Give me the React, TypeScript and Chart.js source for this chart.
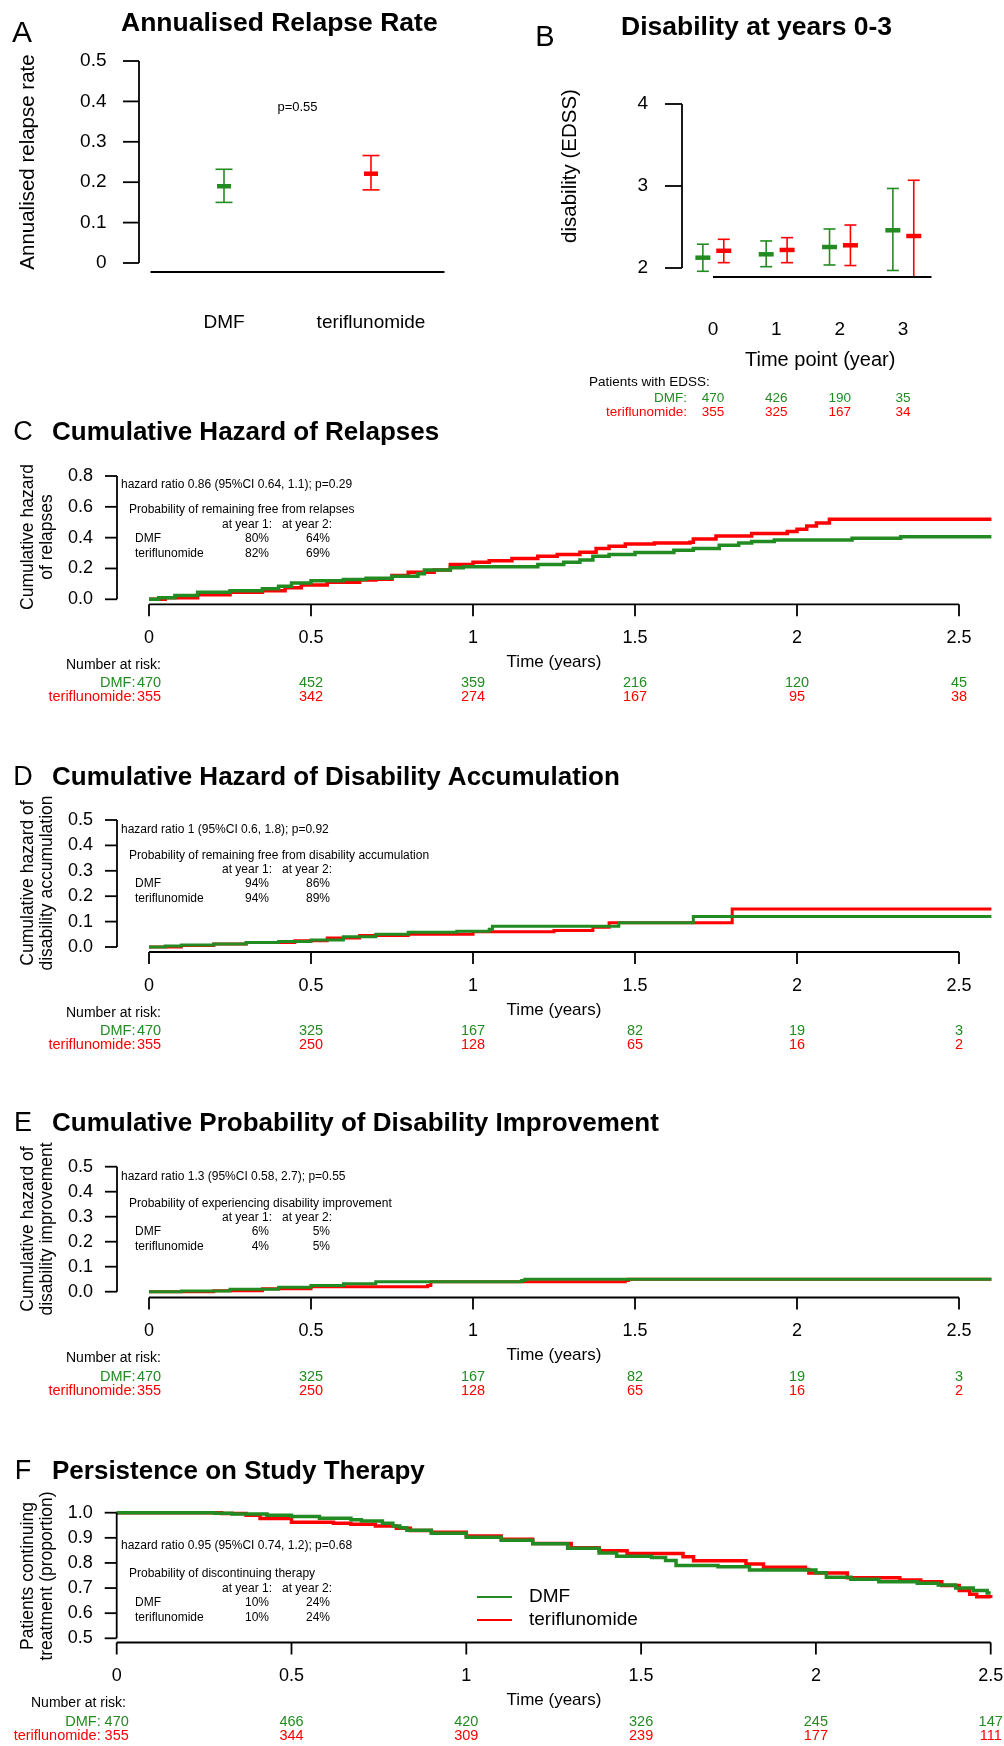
import React, { useEffect, useRef } from 'react';
import { Chart, registerables } from 'chart.js';
Chart.register(...registerables);

const W = 1004;
const H = 1746;
const GREEN = '#228B22';
const RED = '#FF0000';
const FONT = '"Liberation Sans", Arial, sans-serif';

// ---------------- Panel A: annualised relapse rate
const groupsA = ['DMF', 'teriflunomide'];
const arrMean = [0.19, 0.221];
const arrLow = [0.15, 0.181];
const arrHigh = [0.232, 0.266];
const arrTicks = [0, 0.1, 0.2, 0.3, 0.4, 0.5];
const arrTickLabels = ['0', '0.1', '0.2', '0.3', '0.4', '0.5'];

// ---------------- Panel B: disability at years 0-3
const edssYears = [0, 1, 2, 3];
const edssTicks = [2, 3, 4];
const edssDmfMean = [2.126, 2.167, 2.256, 2.46];
const edssDmfLow = [1.96, 2.016, 2.037, 1.97];
const edssDmfHigh = [2.29, 2.33, 2.476, 2.97];
const edssTeriMean = [2.21, 2.22, 2.277, 2.39];
const edssTeriLow = [2.065, 2.065, 2.03, 1.89];
const edssTeriHigh = [2.35, 2.37, 2.524, 3.07];
const edssDmfN = [470, 426, 190, 35];
const edssTeriN = [355, 325, 167, 34];

// ---------------- shared time axis
const riskTimes = [0, 0.5, 1, 1.5, 2, 2.5];
const riskTimeLabels = ['0', '0.5', '1', '1.5', '2', '2.5'];

// ---------------- Panel C: cumulative hazard of relapses (value from time t on)
const relDmfT = [0, 0.03, 0.08, 0.15, 0.25, 0.35, 0.4, 0.44, 0.5, 0.6, 0.67, 0.75, 0.83, 0.85, 0.93, 0.97, 1.2, 1.28, 1.33, 1.37, 1.42, 1.5, 1.62, 1.68, 1.76, 1.82, 1.86, 1.93, 2.17, 2.32, 2.6];
const relDmfH = [0, 0.01, 0.025, 0.045, 0.055, 0.068, 0.085, 0.105, 0.12, 0.128, 0.136, 0.15, 0.165, 0.19, 0.205, 0.212, 0.225, 0.24, 0.255, 0.28, 0.29, 0.303, 0.318, 0.33, 0.35, 0.365, 0.375, 0.385, 0.396, 0.406, 0.406];
const relTeriT = [0, 0.05, 0.15, 0.25, 0.35, 0.42, 0.47, 0.55, 0.65, 0.7, 0.75, 0.8, 0.88, 0.93, 1.0, 1.05, 1.12, 1.2, 1.26, 1.33, 1.38, 1.42, 1.47, 1.56, 1.67, 1.68, 1.75, 1.86, 1.97, 2.0, 2.03, 2.06, 2.1, 2.6];
const relTeriH = [0, 0.01, 0.03, 0.045, 0.055, 0.075, 0.093, 0.11, 0.125, 0.13, 0.155, 0.175, 0.19, 0.225, 0.24, 0.25, 0.265, 0.28, 0.29, 0.305, 0.33, 0.345, 0.358, 0.365, 0.37, 0.392, 0.41, 0.427, 0.44, 0.455, 0.475, 0.495, 0.52, 0.52];
const relRiskDmf = [470, 452, 359, 216, 120, 45];
const relRiskTeri = [355, 342, 274, 167, 95, 38];

// ---------------- Panel D: disability accumulation
const accDmfT = [0, 0.05, 0.1, 0.2, 0.3, 0.4, 0.5, 0.6, 0.7, 0.8, 0.95, 1.05, 1.06, 1.45, 1.68, 2.6];
const accDmfH = [0, 0.004, 0.008, 0.012, 0.018, 0.022, 0.028, 0.04, 0.05, 0.058, 0.062, 0.07, 0.082, 0.095, 0.12, 0.12];
const accTeriT = [0, 0.1, 0.2, 0.3, 0.45, 0.55, 0.65, 0.8, 1.0, 1.25, 1.37, 1.42, 1.8, 2.6];
const accTeriH = [0, 0.006, 0.012, 0.018, 0.025, 0.035, 0.045, 0.05, 0.06, 0.065, 0.078, 0.095, 0.15, 0.15];
const accRiskDmf = [470, 325, 167, 82, 19, 3];
const accRiskTeri = [355, 250, 128, 65, 16, 2];

// ---------------- Panel E: disability improvement
const impDmfT = [0, 0.1, 0.25, 0.4, 0.5, 0.6, 0.7, 1.15, 1.16, 2.6];
const impDmfH = [0, 0.003, 0.01, 0.018, 0.025, 0.032, 0.04, 0.045, 0.05, 0.05];
const impTeriT = [0, 0.2, 0.35, 0.5, 0.86, 0.87, 1.47, 1.48, 2.6];
const impTeriH = [0, 0.004, 0.012, 0.02, 0.025, 0.04, 0.045, 0.05, 0.05];
const impRiskDmf = [470, 325, 167, 82, 19, 3];
const impRiskTeri = [355, 250, 128, 65, 16, 2];

// ---------------- Panel F: persistence on therapy
const perDmfT = [0, 0.28, 0.33, 0.43, 0.5, 0.58, 0.67, 0.7, 0.76, 0.79, 0.81, 0.83, 0.9, 1.0, 1.1, 1.19, 1.29, 1.38, 1.43, 1.53, 1.57, 1.6, 1.72, 1.81, 2.0, 2.03, 2.1, 2.18, 2.29, 2.35, 2.4, 2.45, 2.49, 2.5];
const perDmfS = [1, 0.998, 0.995, 0.99, 0.985, 0.978, 0.972, 0.967, 0.958, 0.947, 0.94, 0.93, 0.918, 0.902, 0.89, 0.876, 0.858, 0.84, 0.827, 0.822, 0.81, 0.79, 0.785, 0.772, 0.761, 0.743, 0.735, 0.725, 0.719, 0.712, 0.7, 0.69, 0.68, 0.68];
const perTeriT = [0, 0.3, 0.37, 0.41, 0.5, 0.62, 0.67, 0.74, 0.8, 0.84, 0.9, 1.0, 1.1, 1.19, 1.3, 1.38, 1.46, 1.62, 1.65, 1.8, 1.85, 1.97, 1.98, 2.09, 2.24, 2.3, 2.36, 2.41, 2.44, 2.46, 2.5];
const perTeriS = [1, 0.997, 0.99, 0.977, 0.962, 0.958, 0.954, 0.947, 0.938, 0.929, 0.922, 0.907, 0.894, 0.877, 0.86, 0.849, 0.838, 0.825, 0.809, 0.796, 0.783, 0.774, 0.76, 0.741, 0.732, 0.725, 0.71, 0.69, 0.675, 0.665, 0.66];
const perRiskDmf = [470, 466, 420, 326, 245, 147];
const perRiskTeri = [355, 344, 309, 239, 177, 111];

// ---------------- helpers
type Map1 = { a: number; pa: number; b: number; pb: number };
const px = (m: Map1, v: number) => m.pa + ((v - m.a) * (m.pb - m.pa)) / (m.b - m.a);

function txt(ctx: any, s: string, x: number, y: number, o: any = {}) {
  ctx.save();
  ctx.font = `${o.bold ? 'bold ' : ''}${o.size ?? 12}px ${FONT}`;
  ctx.fillStyle = o.color ?? '#000';
  ctx.textAlign = o.align ?? 'left';
  ctx.textBaseline = 'middle';
  ctx.translate(x, y);
  if (o.rot) ctx.rotate(o.rot);
  ctx.fillText(s, 0, 0);
  ctx.restore();
}
function seg(ctx: any, x1: number, y1: number, x2: number, y2: number, w = 1.8, color = '#000') {
  ctx.save();
  ctx.strokeStyle = color;
  ctx.lineWidth = w;
  ctx.lineCap = 'butt';
  ctx.beginPath();
  ctx.moveTo(x1, y1);
  ctx.lineTo(x2, y2);
  ctx.stroke();
  ctx.restore();
}
const UP = -Math.PI / 2;

function curve(ts: number[], vs: number[], color: string, w: number) {
  return {
    data: ts.map((t, i) => ({ x: t, y: vs[i] })),
    showLine: true,
    stepped: 'before',
    borderColor: color,
    backgroundColor: color,
    borderWidth: w,
    pointRadius: 0,
    fill: false,
    clip: false,
  };
}

function errorBars(xs: number[], mean: number[], low: number[], high: number[], color: string, capR: number, meanR: number, lw: number, meanW: number) {
  const whiskers = xs.map((x, i) => ({
    data: [{ x, y: low[i] }, { x, y: high[i] }],
    showLine: true,
    borderColor: color,
    borderWidth: lw,
    pointRadius: 0,
    clip: false,
  }));
  const caps = {
    data: xs.flatMap((x, i) => [{ x, y: low[i] }, { x, y: high[i] }]),
    showLine: false,
    pointStyle: 'line',
    pointRadius: capR,
    pointBorderColor: color,
    pointBorderWidth: lw,
    clip: false,
  };
  const means = {
    data: xs.map((x, i) => ({ x, y: mean[i] })),
    showLine: false,
    pointStyle: 'line',
    pointRadius: meanR,
    pointBorderColor: color,
    pointBorderWidth: meanW,
    clip: false,
  };
  return [...whiskers, caps, means];
}

// ---------------- survival-type panel drawing
interface SurvSpec {
  letter: string;
  title: string;
  titleY: number;
  yLabel: [string, string];
  yLabelY: number;
  yTicks: number[];
  yTickLabels: string[];
  yAxisX: number;
  xAxisY: number;
  riskLabelLeft: number;
  riskNameGap: number;
  riskDmf: number[];
  riskTeri: number[];
  statY: number;
  statHeadY: number;
  stats: string[];
  legend?: boolean;
}

function drawSurv(ctx: any, chart: any, s: SurvSpec) {
  const X = (v: number) => chart.scales.x.getPixelForValue(v);
  const Y = (v: number) => chart.scales.y.getPixelForValue(v);
  txt(ctx, s.letter, 23, s.titleY, { size: 27, align: 'center' });
  txt(ctx, s.title, 52, s.titleY, { size: 26, bold: true });
  const ax = s.yAxisX;
  seg(ctx, ax, Y(s.yTicks[0]), ax, Y(s.yTicks[s.yTicks.length - 1]));
  s.yTicks.forEach((v, i) => {
    seg(ctx, ax - 12, Y(v), ax, Y(v));
    txt(ctx, s.yTickLabels[i], ax - 24, Y(v), { size: 18, align: 'right' });
  });
  txt(ctx, s.yLabel[0], 28, s.yLabelY, { size: 17.5, align: 'center', rot: UP });
  txt(ctx, s.yLabel[1], 47, s.yLabelY, { size: 17.5, align: 'center', rot: UP });
  const ay = s.xAxisY;
  seg(ctx, X(riskTimes[0]), ay, X(riskTimes[riskTimes.length - 1]), ay);
  riskTimes.forEach((t, i) => {
    seg(ctx, X(t), ay, X(t), ay + 12);
    txt(ctx, riskTimeLabels[i], X(t), ay + 34, { size: 18, align: 'center' });
  });
  txt(ctx, 'Time (years)', 554, ay + 58, { size: 17, align: 'center' });
  txt(ctx, 'Number at risk:', s.riskLabelLeft, ay + 61, { size: 14 });
  txt(ctx, 'DMF:', X(0) - s.riskNameGap, ay + 79, { size: 14.5, color: GREEN, align: 'right' });
  txt(ctx, 'teriflunomide:', X(0) - s.riskNameGap, ay + 93, { size: 14.5, color: RED, align: 'right' });
  riskTimes.forEach((t, i) => {
    txt(ctx, String(s.riskDmf[i]), X(t), ay + 79, { size: 14.5, color: GREEN, align: 'center' });
    txt(ctx, String(s.riskTeri[i]), X(t), ay + 93, { size: 14.5, color: RED, align: 'center' });
  });
  txt(ctx, s.stats[0], 121, s.statY, { size: 12 });
  const h = s.statHeadY;
  txt(ctx, s.stats[1], 129, h, { size: 12 });
  txt(ctx, 'at year 1:', 272, h + 14.4, { size: 12, align: 'right' });
  txt(ctx, 'at year 2:', 332, h + 14.4, { size: 12, align: 'right' });
  txt(ctx, 'DMF', 135, h + 28.8, { size: 12 });
  txt(ctx, s.stats[2], 269, h + 28.8, { size: 12, align: 'right' });
  txt(ctx, s.stats[3], 330, h + 28.8, { size: 12, align: 'right' });
  txt(ctx, 'teriflunomide', 135, h + 43.2, { size: 12 });
  txt(ctx, s.stats[4], 269, h + 43.2, { size: 12, align: 'right' });
  txt(ctx, s.stats[5], 330, h + 43.2, { size: 12, align: 'right' });
  if (s.legend) {
    seg(ctx, 477, 1597, 512, 1597, 2, GREEN);
    seg(ctx, 477, 1620, 512, 1620, 2, RED);
    txt(ctx, 'DMF', 529, 1597, { size: 19 });
    txt(ctx, 'teriflunomide', 529, 1620, { size: 19 });
  }
}

// ---------------- panel definitions
const xSurv: Map1 = { a: 0, pa: 149, b: 2.5, pb: 959 };

const PANELS: any[] = [
  {
    xm: { a: 1, pa: 224, b: 2, pb: 371 },
    xr: [0.4, 2.6],
    ym: { a: 0, pa: 263, b: 0.5, pb: 61 },
    yr: [-0.05, 0.56],
    datasets: [
      ...errorBars([1], [arrMean[0]], [arrLow[0]], [arrHigh[0]], GREEN, 8.5, 7, 1.6, 4.5),
      ...errorBars([2], [arrMean[1]], [arrLow[1]], [arrHigh[1]], RED, 8.5, 7, 1.6, 4.5),
    ],
    draw: (ctx: any, chart: any) => {
      const X = (v: number) => chart.scales.x.getPixelForValue(v);
      const Y = (v: number) => chart.scales.y.getPixelForValue(v);
      txt(ctx, 'A', 22, 34, { size: 30, align: 'center' });
      txt(ctx, 'Annualised Relapse Rate', 121, 24, { size: 26.5, bold: true });
      const ax = 139;
      seg(ctx, ax, Y(0), ax, Y(0.5));
      arrTicks.forEach((v, i) => {
        seg(ctx, ax - 16, Y(v), ax, Y(v));
        txt(ctx, arrTickLabels[i], 106.5, Y(v), { size: 19, align: 'right' });
      });
      txt(ctx, 'Annualised relapse rate', 28, 162, { size: 20.5, align: 'center', rot: UP });
      seg(ctx, X(0.5), 272, X(2.5), 272);
      groupsA.forEach((g, i) => txt(ctx, g, X(i + 1), 323, { size: 19, align: 'center' }));
      txt(ctx, 'p=0.55', X(1.5), 107, { size: 13, align: 'center' });
    },
  },
  {
    xm: { a: 0, pa: 713, b: 3, pb: 903 },
    xr: [-0.6, 3.8],
    ym: { a: 2, pa: 268, b: 4, pb: 104 },
    yr: [1.8, 4.1],
    datasets: [
      ...errorBars(edssYears.map((v) => v - 0.16), edssDmfMean, edssDmfLow, edssDmfHigh, GREEN, 6, 7.5, 1.6, 4.5),
      ...errorBars(edssYears.map((v) => v + 0.17), edssTeriMean, edssTeriLow, edssTeriHigh, RED, 6, 7.5, 1.6, 4.5),
    ],
    draw: (ctx: any, chart: any) => {
      const X = (v: number) => chart.scales.x.getPixelForValue(v);
      const Y = (v: number) => chart.scales.y.getPixelForValue(v);
      txt(ctx, 'B', 545, 38, { size: 29, align: 'center' });
      txt(ctx, 'Disability at years 0-3', 621, 28, { size: 26.5, bold: true });
      const ax = 682;
      seg(ctx, ax, Y(2), ax, Y(4));
      edssTicks.forEach((v) => {
        seg(ctx, ax - 17, Y(v), ax, Y(v));
        txt(ctx, String(v), 648, Y(v), { size: 19, align: 'right' });
      });
      txt(ctx, 'disability (EDSS)', 570, 166, { size: 20.5, align: 'center', rot: UP });
      seg(ctx, X(0), 277, X(3.45), 277);
      edssYears.forEach((v) => txt(ctx, String(v), X(v), 330, { size: 19, align: 'center' }));
      txt(ctx, 'Time point (year)', 745, 360, { size: 20 });
      txt(ctx, 'Patients with EDSS:', 589, 382, { size: 13.5 });
      txt(ctx, 'DMF:', 687, 398, { size: 13.5, color: GREEN, align: 'right' });
      txt(ctx, 'teriflunomide:', 687, 412, { size: 13.5, color: RED, align: 'right' });
      edssYears.forEach((v, i) => {
        txt(ctx, String(edssDmfN[i]), X(v), 398, { size: 13.5, color: GREEN, align: 'center' });
        txt(ctx, String(edssTeriN[i]), X(v), 412, { size: 13.5, color: RED, align: 'center' });
      });
    },
  },
  {
    xm: xSurv,
    xr: [-0.1, 2.6],
    ym: { a: 0, pa: 599.3, b: 0.8, pb: 476 },
    yr: [-0.03, 0.85],
    datasets: [curve(relDmfT, relDmfH, GREEN, 3.5), curve(relTeriT, relTeriH, RED, 3.5)],
    spec: {
      letter: 'C', title: 'Cumulative Hazard of Relapses', titleY: 433,
      yLabel: ['Cumulative hazard', 'of relapses'], yLabelY: 537,
      yTicks: [0, 0.2, 0.4, 0.6, 0.8], yTickLabels: ['0.0', '0.2', '0.4', '0.6', '0.8'],
      yAxisX: 117, xAxisY: 604.3, riskLabelLeft: 66, riskNameGap: 13.5,
      riskDmf: relRiskDmf, riskTeri: relRiskTeri,
      statY: 484.3, statHeadY: 510,
      stats: ['hazard ratio 0.86 (95%CI 0.64, 1.1); p=0.29', 'Probability of remaining free from relapses', '80%', '64%', '82%', '69%'],
    },
  },
  {
    xm: xSurv,
    xr: [-0.1, 2.6],
    ym: { a: 0, pa: 947, b: 0.5, pb: 820 },
    yr: [-0.02, 0.52],
    datasets: [curve(accDmfT, accDmfH, GREEN, 3), curve(accTeriT, accTeriH, RED, 3)],
    spec: {
      letter: 'D', title: 'Cumulative Hazard of Disability Accumulation', titleY: 778,
      yLabel: ['Cumulative hazard of', 'disability accumulation'], yLabelY: 883,
      yTicks: [0, 0.1, 0.2, 0.3, 0.4, 0.5], yTickLabels: ['0.0', '0.1', '0.2', '0.3', '0.4', '0.5'],
      yAxisX: 117, xAxisY: 952, riskLabelLeft: 66, riskNameGap: 13.5,
      riskDmf: accRiskDmf, riskTeri: accRiskTeri,
      statY: 830, statHeadY: 855.3,
      stats: ['hazard ratio 1 (95%CI 0.6, 1.8); p=0.92', 'Probability of remaining free from disability accumulation', '94%', '86%', '94%', '89%'],
    },
  },
  {
    xm: xSurv,
    xr: [-0.1, 2.6],
    ym: { a: 0, pa: 1291.7, b: 0.5, pb: 1166.7 },
    yr: [-0.02, 0.52],
    datasets: [curve(impDmfT, impDmfH, GREEN, 3), curve(impTeriT, impTeriH, RED, 3)],
    spec: {
      letter: 'E', title: 'Cumulative Probability of Disability Improvement', titleY: 1124,
      yLabel: ['Cumulative hazard of', 'disability improvement'], yLabelY: 1229,
      yTicks: [0, 0.1, 0.2, 0.3, 0.4, 0.5], yTickLabels: ['0.0', '0.1', '0.2', '0.3', '0.4', '0.5'],
      yAxisX: 117, xAxisY: 1297.5, riskLabelLeft: 66, riskNameGap: 13.5,
      riskDmf: impRiskDmf, riskTeri: impRiskTeri,
      statY: 1176.7, statHeadY: 1203.3,
      stats: ['hazard ratio 1.3 (95%CI 0.58, 2.7); p=0.55', 'Probability of experiencing disability improvement', '6%', '5%', '4%', '5%'],
    },
  },
  {
    xm: { a: 0, pa: 116.7, b: 2.5, pb: 990.7 },
    xr: [-0.05, 2.5],
    ym: { a: 0.5, pa: 1638.3, b: 1, pb: 1512.7 },
    yr: [0.49, 1.01],
    datasets: [curve(perDmfT, perDmfS, GREEN, 3.5), curve(perTeriT, perTeriS, RED, 3.5)],
    spec: {
      letter: 'F', title: 'Persistence on Study Therapy', titleY: 1472,
      yLabel: ['Patients continuing', 'treatment (proportion)'], yLabelY: 1576,
      yTicks: [0.5, 0.6, 0.7, 0.8, 0.9, 1.0], yTickLabels: ['0.5', '0.6', '0.7', '0.8', '0.9', '1.0'],
      yAxisX: 116.7, xAxisY: 1642.5, riskLabelLeft: 31, riskNameGap: 16,
      riskDmf: perRiskDmf, riskTeri: perRiskTeri,
      statY: 1545.7, statHeadY: 1574,
      stats: ['hazard ratio 0.95 (95%CI 0.74, 1.2); p=0.68', 'Probability of discontinuing therapy', '10%', '24%', '10%', '24%'],
      legend: true,
    },
  },
];

function buildConfig(p: any, idx: number): any {
  const left = px(p.xm, p.xr[0]);
  const right = px(p.xm, p.xr[1]);
  const top = px(p.ym, p.yr[1]);
  const bottom = px(p.ym, p.yr[0]);
  return {
    type: 'scatter',
    data: { datasets: p.datasets },
    options: {
      animation: false,
      responsive: false,
      maintainAspectRatio: false,
      events: [],
      layout: { padding: { left, right: W - right, top, bottom: H - bottom } },
      plugins: { legend: { display: false }, tooltip: { enabled: false }, title: { display: false } },
      scales: {
        x: { type: 'linear', display: false, min: p.xr[0], max: p.xr[1], bounds: 'data' },
        y: { type: 'linear', display: false, min: p.yr[0], max: p.yr[1], bounds: 'data' },
      },
    },
    plugins: [
      {
        id: 'deco' + idx,
        afterDraw: (chart: any) => {
          const ctx = chart.ctx;
          if (p.spec) drawSurv(ctx, chart, p.spec);
          else p.draw(ctx, chart);
        },
      },
    ],
  };
}

export default function App() {
  const refs = useRef<(HTMLCanvasElement | null)[]>([]);
  useEffect(() => {
    document.body.style.margin = '0';
    const charts = PANELS.map((p, i) => new Chart(refs.current[i] as HTMLCanvasElement, buildConfig(p, i)));
    return () => charts.forEach((c) => c.destroy());
  }, []);
  return (
    <div style={{ position: 'absolute', left: 0, top: 0, width: W, height: H, background: '#fff', overflow: 'hidden' }}>
      {PANELS.map((_, i) => (
        <canvas
          key={i}
          ref={(el) => {
            refs.current[i] = el;
          }}
          width={W}
          height={H}
          style={{ position: 'absolute', left: 0, top: 0, width: W, height: H }}
        />
      ))}
    </div>
  );
}
